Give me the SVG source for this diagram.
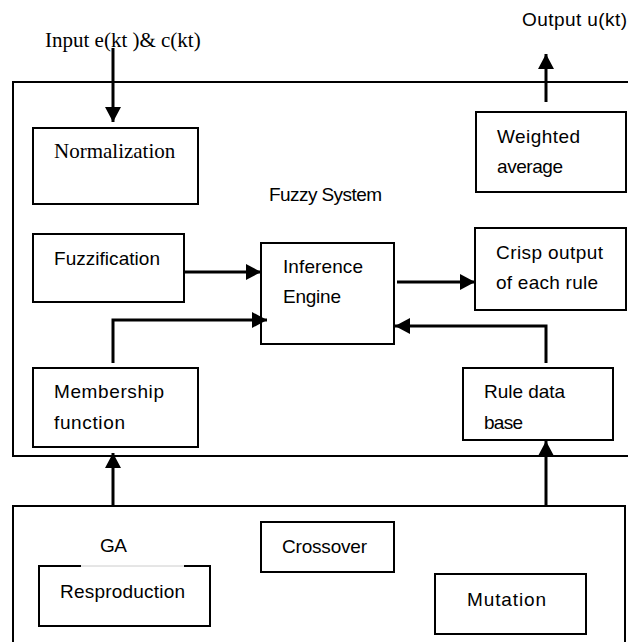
<svg xmlns="http://www.w3.org/2000/svg" width="628" height="642" viewBox="0 0 628 642">
<style>
.frame{fill:none;stroke:#000;stroke-width:2}
.box{fill:#fff;stroke:#000;stroke-width:2}
.t{font-family:"Liberation Sans",Arial,sans-serif;font-size:19px;fill:#000}
.s{font-family:"Liberation Serif","Times New Roman",serif;font-size:21px;fill:#000}
.c{fill:none;stroke:#000;stroke-width:3}
</style>
<defs>
<marker id="ah" markerWidth="16" markerHeight="16" refX="15" refY="8" orient="auto" markerUnits="userSpaceOnUse">
<path d="M0,0 L15,8 L0,16 Z" fill="#000"/>
</marker>
</defs>
<rect x="0" y="0" width="628" height="642" fill="#fff"/>
<g id="fuzzy-system">
<path class="frame" d="M640,82 H13 V456 H640"/>
<text class="t" x="269" y="201" textLength="113" lengthAdjust="spacing">Fuzzy System</text>
</g>
<g id="ga">
<path class="frame" d="M13,650 V506 H625 V650"/>
<text class="t" x="100" y="552" textLength="27" lengthAdjust="spacing">GA</text>
</g>
<g id="input-label"><text class="s" x="45" y="47">Input e(kt )&amp; c(kt)</text></g>
<g id="output-label"><text class="t" x="522" y="26" textLength="105" lengthAdjust="spacing">Output u(kt)</text></g>
<g id="normalization">
<rect class="box" x="33" y="128" width="165" height="76"/>
<text class="s" x="54" y="158">Normalization</text>
</g>
<g id="weighted-average">
<rect class="box" x="476" y="112" width="150" height="80"/>
<text class="t" x="497" y="143" textLength="83" lengthAdjust="spacing">Weighted</text>
<text class="t" x="497" y="173" textLength="66" lengthAdjust="spacing">average</text>
</g>
<g id="fuzzification">
<rect class="box" x="33" y="234" width="151" height="68"/>
<text class="t" x="54" y="265" textLength="106" lengthAdjust="spacing">Fuzzification</text>
</g>
<g id="inference-engine">
<rect class="box" x="261" y="243" width="133" height="101"/>
<text class="t" x="283" y="273" textLength="80" lengthAdjust="spacing">Inference</text>
<text class="t" x="283" y="303" textLength="58" lengthAdjust="spacing">Engine</text>
</g>
<g id="crisp-output">
<rect class="box" x="475" y="228" width="151" height="82"/>
<text class="t" x="496" y="259" textLength="107" lengthAdjust="spacing">Crisp output</text>
<text class="t" x="496" y="289" textLength="102" lengthAdjust="spacing">of each rule</text>
</g>
<g id="membership-function">
<rect class="box" x="33" y="368" width="165" height="79"/>
<text class="t" x="54" y="398" textLength="110" lengthAdjust="spacing">Membership</text>
<text class="t" x="54" y="429" textLength="71" lengthAdjust="spacing">function</text>
</g>
<g id="rule-data-base">
<rect class="box" x="463" y="368" width="150" height="72"/>
<text class="t" x="484" y="398" textLength="81" lengthAdjust="spacing">Rule data</text>
<text class="t" x="484" y="429" textLength="39" lengthAdjust="spacing">base</text>
</g>
<g id="resproduction">
<path class="frame" d="M81,566 H39 V626 H210 V566 H184"/>
<path d="M81,566 H184" stroke="#ccc" stroke-width="1" fill="none"/>
<text class="t" x="60" y="598" textLength="125" lengthAdjust="spacing">Resproduction</text>
</g>
<g id="crossover">
<rect class="box" x="261" y="522" width="133" height="50"/>
<text class="t" x="282" y="553" textLength="85" lengthAdjust="spacing">Crossover</text>
</g>
<g id="mutation">
<rect class="box" x="435" y="574" width="151" height="60"/>
<text class="t" x="467" y="606" textLength="79" lengthAdjust="spacing">Mutation</text>
</g>
<g id="connectors">
<path class="c" d="M113,48 V122" marker-end="url(#ah)"/>
<path class="c" d="M546,102 V54" marker-end="url(#ah)"/>
<path class="c" d="M184,272 H261" marker-end="url(#ah)"/>
<path class="c" d="M113,363 V320 H267" marker-end="url(#ah)"/>
<path class="c" d="M397,282 H475" marker-end="url(#ah)"/>
<path class="c" d="M546,363 V326 H395" marker-end="url(#ah)"/>
<path class="c" d="M113,506 V453" marker-end="url(#ah)"/>
<path class="c" d="M546,506 V441" marker-end="url(#ah)"/>
</g>
</svg>
